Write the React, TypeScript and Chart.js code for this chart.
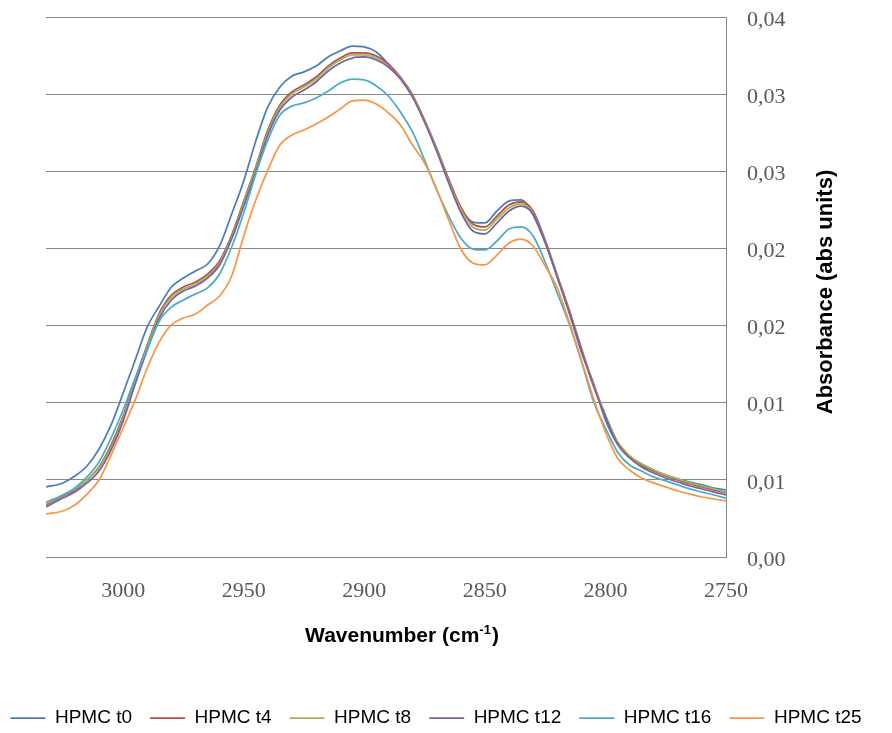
import React, { useEffect, useRef } from 'react';
import { Chart, registerables } from 'chart.js';

Chart.register(...registerables);

// Wavenumber grid (cm-1)
const WAVENUMBERS = [
  3032, 3025, 3020, 3015, 3010, 3005, 3000, 2995, 2990, 2985,
  2980, 2975, 2970, 2965, 2960, 2955, 2950, 2945, 2940, 2935,
  2930, 2925, 2920, 2915, 2910, 2905, 2900, 2895, 2890, 2885,
  2880, 2875, 2870, 2865, 2860, 2855, 2850, 2845, 2840, 2835,
  2830, 2825, 2820, 2815, 2810, 2805, 2800, 2795, 2790, 2785,
  2780, 2775, 2770, 2765, 2760, 2755, 2750,
];

const HPMC_T0 = [
  0.00454, 0.00480, 0.00525, 0.00590, 0.00700, 0.00856, 0.01063, 0.01277, 0.01491, 0.01627,
  0.01750, 0.01808, 0.01854, 0.01899, 0.02016, 0.02223, 0.02437, 0.02696, 0.02917, 0.03046,
  0.03118, 0.03144, 0.03182, 0.03241, 0.03280, 0.03312, 0.03306, 0.03273, 0.03195, 0.03105,
  0.02994, 0.02826, 0.02638, 0.02444, 0.02262, 0.02171, 0.02165, 0.02243, 0.02307, 0.02314,
  0.02217, 0.02035, 0.01815, 0.01581, 0.01329, 0.01128, 0.00888, 0.00732, 0.00648, 0.00603,
  0.00564, 0.00531, 0.00506, 0.00486, 0.00467, 0.00447, 0.00434,
];

const HPMC_T4 = [
  0.00337, 0.00395, 0.00434, 0.00499, 0.00583, 0.00726, 0.00914, 0.01154, 0.01374, 0.01581,
  0.01698, 0.01750, 0.01782, 0.01834, 0.01919, 0.02087, 0.02307, 0.02528, 0.02768, 0.02930,
  0.03014, 0.03059, 0.03111, 0.03182, 0.03234, 0.03267, 0.03267, 0.03247, 0.03195, 0.03111,
  0.02994, 0.02832, 0.02651, 0.02450, 0.02269, 0.02158, 0.02139, 0.02210, 0.02281, 0.02301,
  0.02243, 0.02055, 0.01828, 0.01601, 0.01355, 0.01121, 0.00920, 0.00745, 0.00655, 0.00596,
  0.00557, 0.00525, 0.00499, 0.00473, 0.00454, 0.00434, 0.00415,
];

const HPMC_T8 = [
  0.00344, 0.00402, 0.00441, 0.00499, 0.00577, 0.00713, 0.00901, 0.01141, 0.01361, 0.01569,
  0.01685, 0.01737, 0.01769, 0.01821, 0.01906, 0.02074, 0.02294, 0.02515, 0.02755, 0.02917,
  0.03001, 0.03046, 0.03098, 0.03169, 0.03221, 0.03254, 0.03254, 0.03234, 0.03182, 0.03105,
  0.02988, 0.02826, 0.02645, 0.02437, 0.02256, 0.02139, 0.02119, 0.02191, 0.02262, 0.02288,
  0.02230, 0.02048, 0.01821, 0.01594, 0.01348, 0.01115, 0.00914, 0.00745, 0.00655, 0.00603,
  0.00564, 0.00531, 0.00506, 0.00480, 0.00460, 0.00441, 0.00421,
];

const HPMC_T12 = [
  0.00324, 0.00382, 0.00421, 0.00480, 0.00557, 0.00694, 0.00881, 0.01121, 0.01342, 0.01549,
  0.01666, 0.01724, 0.01756, 0.01808, 0.01893, 0.02061, 0.02275, 0.02495, 0.02735, 0.02897,
  0.02981, 0.03027, 0.03079, 0.03150, 0.03202, 0.03234, 0.03241, 0.03221, 0.03176, 0.03098,
  0.02981, 0.02819, 0.02632, 0.02424, 0.02236, 0.02113, 0.02094, 0.02165, 0.02243, 0.02275,
  0.02223, 0.02042, 0.01815, 0.01588, 0.01342, 0.01108, 0.00907, 0.00732, 0.00642, 0.00583,
  0.00544, 0.00512, 0.00486, 0.00460, 0.00441, 0.00421, 0.00402,
];

const HPMC_T16 = [
  0.00356, 0.00402, 0.00447, 0.00519, 0.00616, 0.00771, 0.00953, 0.01160, 0.01348, 0.01530,
  0.01620, 0.01666, 0.01705, 0.01744, 0.01834, 0.02009, 0.02230, 0.02482, 0.02703, 0.02865,
  0.02923, 0.02943, 0.02975, 0.03020, 0.03072, 0.03098, 0.03092, 0.03053, 0.02988, 0.02884,
  0.02755, 0.02573, 0.02379, 0.02210, 0.02068, 0.01996, 0.01990, 0.02048, 0.02126, 0.02139,
  0.02081, 0.01912, 0.01711, 0.01510, 0.01270, 0.01011, 0.00836, 0.00681, 0.00596, 0.00557,
  0.00519, 0.00493, 0.00467, 0.00441, 0.00421, 0.00402, 0.00382,
];

const HPMC_T25 = [
  0.00279, 0.00298, 0.00337, 0.00408, 0.00499, 0.00661, 0.00836, 0.01018, 0.01225, 0.01394,
  0.01504, 0.01549, 0.01575, 0.01633, 0.01692, 0.01821, 0.02081, 0.02314, 0.02508, 0.02670,
  0.02735, 0.02768, 0.02806, 0.02852, 0.02904, 0.02956, 0.02962, 0.02936, 0.02878, 0.02800,
  0.02670, 0.02554, 0.02385, 0.02184, 0.01996, 0.01906, 0.01893, 0.01957, 0.02035, 0.02061,
  0.02016, 0.01886, 0.01744, 0.01523, 0.01277, 0.01031, 0.00810, 0.00642, 0.00564, 0.00512,
  0.00480, 0.00454, 0.00428, 0.00408, 0.00389, 0.00376, 0.00363,
];

const SERIES_LABELS = ['HPMC t0', 'HPMC t4', 'HPMC t8', 'HPMC t12', 'HPMC t16', 'HPMC t25'];
const SERIES_VALUES = [HPMC_T0, HPMC_T4, HPMC_T8, HPMC_T12, HPMC_T16, HPMC_T25];
const SERIES_COLORS = ['#4A7EBB', '#BE4B48', '#98B954', '#7D60A0', '#4BACC6', '#F79646'];

const X_TICKS = [3000, 2950, 2900, 2850, 2800, 2750];
const Y_TICKS = [0, 0.005, 0.01, 0.015, 0.02, 0.025, 0.03, 0.035];
const X_MIN = 2750;
const X_MAX = 3032;
const Y_MIN = 0;
const Y_MAX = 0.035;

const X_TITLE_MAIN = 'Wavenumber (cm';
const X_TITLE_SUP = '-1';
const X_TITLE_END = ')';
const Y_TITLE = 'Absorbance (abs units)';

const W = 892;
const H = 733;

const titlesPlugin = {
  id: 'axisTitles',
  afterDraw(chart: any) {
    const { ctx, chartArea } = chart;
    ctx.save();
    ctx.fillStyle = '#000000';
    // y title (rotated)
    ctx.font = 'bold 22px "Liberation Sans"';
    ctx.textAlign = 'center';
    ctx.textBaseline = 'middle';
    ctx.save();
    ctx.translate(chartArea.right + 100, (chartArea.top + chartArea.bottom) / 2 + 5);
    ctx.rotate(-Math.PI / 2);
    ctx.fillText(Y_TITLE, 0, 0);
    ctx.restore();

    // x title with superscript
    const mainFont = 'bold 21px "Liberation Sans"';
    const supFont = 'bold 13px "Liberation Sans"';
    ctx.textAlign = 'left';
    ctx.textBaseline = 'alphabetic';
    ctx.font = mainFont;
    const w1 = ctx.measureText(X_TITLE_MAIN).width;
    const w3 = ctx.measureText(X_TITLE_END).width;
    ctx.font = supFont;
    const w2 = ctx.measureText(X_TITLE_SUP).width;
    const total = w1 + w2 + w3 + 1;
    const cx = (chartArea.left + chartArea.right) / 2 + 16;
    const baseY = chartArea.bottom + 85;
    let x = cx - total / 2;
    ctx.font = mainFont;
    ctx.fillText(X_TITLE_MAIN, x, baseY);
    x += w1;
    ctx.font = supFont;
    ctx.fillText(X_TITLE_SUP, x, baseY - 8);
    x += w2 + 1;
    ctx.font = mainFont;
    ctx.fillText(X_TITLE_END, x, baseY);
    ctx.restore();
  },
};

const formatY = (v: number) => (Math.round(v * 100 + 1e-6) / 100).toFixed(2).replace('.', ',');

export default function App() {
  const canvasRef = useRef<HTMLCanvasElement | null>(null);

  useEffect(() => {
    if (!canvasRef.current) return;
    const datasets = SERIES_LABELS.map((label, si) => ({
      label,
      data: WAVENUMBERS.map((x, i) => ({ x, y: SERIES_VALUES[si][i] })),
      borderColor: SERIES_COLORS[si],
      backgroundColor: SERIES_COLORS[si],
      borderWidth: 1.75,
      pointRadius: 0,
      pointHoverRadius: 0,
      fill: false,
      cubicInterpolationMode: 'monotone' as const,
      order: SERIES_LABELS.length - si,
      yAxisID: 'y',
    }));

    const tickFont = { family: '"Liberation Serif"', size: 22 };

    const chart = new Chart(canvasRef.current, {
      type: 'line',
      data: { datasets },
      plugins: [titlesPlugin],
      options: {
        animation: false,
        responsive: false,
        devicePixelRatio: 1,
        layout: { autoPadding: false, padding: { left: -20, right: 0, top: 17, bottom: -4.5 } },
        plugins: {
          tooltip: { enabled: false },
          title: { display: false },
          legend: {
            display: true,
            position: 'bottom',
            labels: {
              usePointStyle: true,
              pointStyle: 'line',
              pointStyleWidth: 35,
              color: '#000000',
              font: { family: '"Liberation Sans"', size: 19 },
              padding: 18,
              sort: (a: any, b: any) => a.datasetIndex - b.datasetIndex,
            },
          },
        },
        scales: {
          x: {
            type: 'linear',
            reverse: true,
            min: X_MIN,
            max: X_MAX,
            afterBuildTicks: (scale: any) => {
              scale.ticks = X_TICKS.map((v) => ({ value: v }));
            },
            afterFit: (scale: any) => {
              scale.height = 133.5;
            },
            ticks: {
              font: tickFont,
              color: '#595959',
              padding: 21,
              maxRotation: 0,
              autoSkip: false,
              callback: (v: any) => String(v),
            },
            grid: { display: false, drawTicks: false },
            border: { display: false },
          },
          y: {
            type: 'linear',
            position: 'right',
            min: Y_MIN,
            max: Y_MAX,
            afterBuildTicks: (scale: any) => {
              scale.ticks = Y_TICKS.map((v) => ({ value: v }));
            },
            afterFit: (scale: any) => {
              scale.width = 166;
            },
            ticks: {
              font: tickFont,
              color: '#595959',
              padding: 0,
              labelOffset: 3,
              callback: (v: any) => formatY(Number(v)),
            },
            grid: {
              color: '#878787',
              lineWidth: 1,
              drawTicks: true,
              tickLength: 21,
              tickColor: 'rgba(0,0,0,0)',
            },
            border: { display: true, color: '#878787', width: 1 },
          },
          yLeft: {
            type: 'linear',
            position: 'left',
            display: true,
            ticks: { display: false },
            grid: { display: false, drawTicks: false },
            border: { display: false },
            afterFit: (scale: any) => {
              scale.width = 66;
            },
          },
        },
      },
    } as any);

    return () => {
      chart.destroy();
    };
  }, []);

  return (
    <div style={{ position: 'fixed', left: 0, top: 0, width: W, height: H, background: '#ffffff' }}>
      <canvas ref={canvasRef} width={W} height={H} style={{ display: 'block', width: W, height: H }} />
    </div>
  );
}
